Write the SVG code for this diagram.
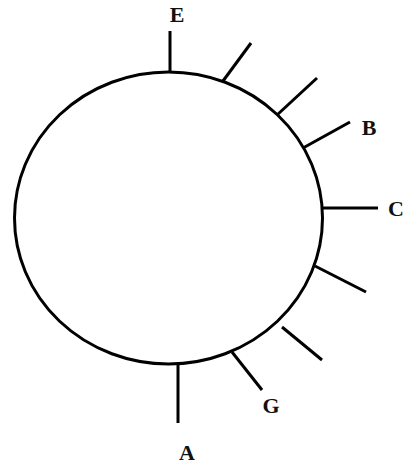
<svg xmlns="http://www.w3.org/2000/svg" width="405" height="466" viewBox="0 0 405 466">
<style>
.ln{stroke:#000;stroke-width:3;fill:none;stroke-linecap:butt}
.lb{font-family:"Liberation Serif",serif;font-weight:bold;font-size:22px;fill:#111;text-anchor:middle}
</style>
<rect width="405" height="466" fill="#fff"/>
<g id="ring"><ellipse class="ln" cx="168.5" cy="218" rx="154" ry="146"/></g>
<g id="connectors">
<line class="ln" x1="170" y1="73" x2="170" y2="31"/>
<line class="ln" x1="223" y1="81" x2="251" y2="43"/>
<line class="ln" x1="277" y1="115" x2="317" y2="78"/>
<line class="ln" x1="303" y1="148" x2="350" y2="122"/>
<line class="ln" x1="322" y1="208" x2="378" y2="208"/>
<line class="ln" x1="315" y1="266" x2="366" y2="292"/>
<line class="ln" x1="282" y1="327" x2="322" y2="360"/>
<line class="ln" x1="232" y1="352" x2="262" y2="390"/>
<line class="ln" x1="178" y1="363" x2="178" y2="423"/>
</g>
<g id="E"><text class="lb" x="177" y="22">E</text></g>
<g id="B"><text class="lb" x="369" y="135">B</text></g>
<g id="C"><text class="lb" x="396" y="216">C</text></g>
<g id="G"><text class="lb" x="271" y="413">G</text></g>
<g id="A"><text class="lb" x="187" y="460">A</text></g>
</svg>
